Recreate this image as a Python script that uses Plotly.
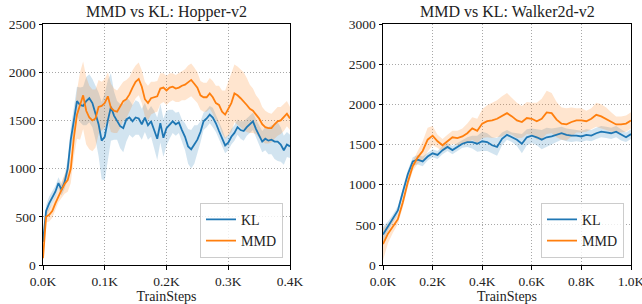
import numpy as np
import plotly.graph_objects as go

# ---------------- data ----------------
hopper_steps = list(range(0, 405, 5))
hopper_kl_mean = [
    240, 560, 640, 700, 760, 850, 780, 860, 1000, 1300,
    1500, 1700, 1660, 1650, 1700, 1730, 1680, 1580, 1460, 1290,
    1330, 1500, 1640, 1550, 1500, 1440, 1420, 1510, 1530, 1490,
    1530, 1520, 1460, 1530, 1450, 1490, 1400, 1310, 1470, 1320,
    1420, 1460, 1490, 1460, 1480, 1400, 1330, 1230, 1200, 1250,
    1300, 1380, 1490, 1520, 1560, 1530, 1470, 1390, 1320, 1240,
    1270, 1330, 1370, 1430, 1400, 1390, 1430, 1460, 1490, 1410,
    1350, 1280, 1310, 1290, 1300, 1280, 1280, 1250, 1190, 1250,
    1230]
hopper_kl_spread = [
    30, 60, 70, 60, 60, 60, 60, 70, 100, 120,
    130, 150, 180, 200, 250, 250, 250, 280, 330, 400,
    450, 420, 350, 250, 200, 230, 250, 230, 180, 170,
    180, 170, 160, 150, 150, 160, 200, 220, 200, 200,
    180, 150, 120, 120, 110, 110, 140, 180, 200, 200,
    150, 110, 90, 90, 90, 100, 90, 90, 90, 80,
    80, 80, 80, 80, 90, 100, 90, 90, 90, 100,
    100, 110, 120, 140, 150, 180, 200, 180, 150, 130,
    120]
hopper_mmd_mean = [
    70, 500, 520, 560, 640, 720, 780, 840, 880, 1000,
    1320, 1560, 1650, 1760, 1600, 1530, 1500, 1520, 1640, 1650,
    1680, 1750, 1630, 1600, 1590, 1640, 1700, 1720, 1770, 1840,
    1900, 1930, 1850, 1720, 1680, 1730, 1740, 1750, 1830, 1840,
    1810, 1840, 1850, 1830, 1840, 1860, 1870, 1900, 1920, 1880,
    1840, 1760, 1740, 1740, 1780, 1740, 1680, 1660, 1590, 1560,
    1620, 1680, 1780, 1760, 1730, 1700, 1660, 1620, 1600, 1560,
    1520, 1460, 1430, 1420, 1420, 1460, 1490, 1500, 1530, 1570,
    1520]
hopper_mmd_spread = [
    30, 60, 70, 70, 70, 70, 80, 100, 120, 150,
    200, 250, 350, 350, 350, 330, 320, 300, 280, 250,
    250, 250, 250, 230, 220, 220, 200, 200, 180, 180,
    170, 170, 170, 180, 180, 170, 160, 160, 160, 150,
    150, 150, 140, 140, 150, 150, 160, 170, 170, 170,
    160, 150, 150, 150, 160, 170, 180, 200, 220, 250,
    280, 300, 300, 300, 300, 300, 280, 250, 230, 200,
    200, 180, 170, 160, 150, 150, 150, 140, 140, 130,
    120]

walker_steps = list(range(0, 1020, 20))
walker_kl_mean = [
    380, 480, 580, 680, 910, 1130, 1290, 1310, 1290, 1350,
    1390, 1370, 1430, 1470, 1430, 1470, 1510, 1530, 1530, 1510,
    1540, 1530, 1490, 1470, 1570, 1620, 1590, 1560, 1510, 1590,
    1610, 1590, 1560, 1590, 1600, 1620, 1640, 1620, 1610, 1610,
    1600, 1620, 1610, 1640, 1660, 1650, 1640, 1660, 1620, 1590,
    1630]
walker_kl_spread = [
    100, 60, 50, 50, 50, 50, 50, 60, 60, 50,
    50, 50, 50, 50, 50, 50, 50, 60, 80, 100,
    120, 110, 100, 110, 80, 60, 60, 80, 120, 100,
    90, 100, 120, 120, 100, 90, 80, 80, 80, 70,
    70, 70, 70, 70, 70, 70, 70, 70, 70, 60,
    60]
walker_mmd_mean = [
    260, 390, 480, 570, 780, 1030, 1230, 1340, 1420, 1560,
    1610, 1540, 1490, 1540, 1590, 1580, 1600, 1640, 1700, 1670,
    1760, 1790, 1800, 1820, 1850, 1890, 1850, 1800, 1780, 1830,
    1820, 1790, 1820, 1900, 1890, 1810, 1760, 1750, 1780, 1800,
    1800, 1790, 1820, 1870, 1850, 1820, 1780, 1750, 1750, 1760,
    1800]
walker_mmd_spread = [
    200, 120, 80, 60, 60, 60, 60, 80, 120, 150,
    120, 80, 80, 80, 80, 90, 100, 120, 140, 150,
    180, 200, 220, 230, 250, 250, 230, 220, 200, 200,
    200, 230, 250, 270, 250, 220, 200, 200, 180, 150,
    150, 130, 130, 150, 150, 140, 120, 100, 100, 100,
    100]

hopper_ticks = [0, 100, 200, 300, 400]
hopper_ticktext = ["0.0K", "0.1K", "0.2K", "0.3K", "0.4K"]
walker_ticks = [0, 200, 400, 600, 800, 1000]
walker_ticktext = ["0.0K", "0.2K", "0.4K", "0.6K", "0.8K", "1.0K"]

# ---------------- styling ----------------
FONT = "Liberation Serif, DejaVu Serif, serif"
BLUE = "#1f77b4"
ORANGE = "#ff7f0e"
BLUE_FILL = "rgba(31,119,180,0.2)"
ORANGE_FILL = "rgba(255,127,14,0.2)"

fig = go.Figure()


def add_band(x, mean, spread, fillcolor, xa, ya):
    x = np.asarray(x, float)
    m = np.asarray(mean, float)
    s = np.asarray(spread, float)
    lo, hi = m - s, m + s
    fig.add_trace(go.Scatter(
        x=np.concatenate([x, x[::-1]]), y=np.concatenate([hi, lo[::-1]]),
        fill="toself", fillcolor=fillcolor, line=dict(width=0),
        mode="lines", hoverinfo="skip", showlegend=False, xaxis=xa, yaxis=ya))


def add_line(x, mean, color, name, xa, ya, legend):
    fig.add_trace(go.Scatter(
        x=x, y=mean, mode="lines", name=name,
        line=dict(color=color, width=1.8),
        xaxis=xa, yaxis=ya, legend=legend))


add_band(hopper_steps, hopper_kl_mean, hopper_kl_spread, BLUE_FILL, "x", "y")
add_band(hopper_steps, hopper_mmd_mean, hopper_mmd_spread, ORANGE_FILL, "x", "y")
add_line(hopper_steps, hopper_kl_mean, BLUE, "KL", "x", "y", "legend")
add_line(hopper_steps, hopper_mmd_mean, ORANGE, "MMD", "x", "y", "legend")

add_band(walker_steps, walker_kl_mean, walker_kl_spread, BLUE_FILL, "x2", "y2")
add_band(walker_steps, walker_mmd_mean, walker_mmd_spread, ORANGE_FILL, "x2", "y2")
add_line(walker_steps, walker_kl_mean, BLUE, "KL", "x2", "y2", "legend2")
add_line(walker_steps, walker_mmd_mean, ORANGE, "MMD", "x2", "y2", "legend2")

W, H = 642, 304
MT, MB = 24, 39
axis_common = dict(
    automargin=False, ticklabeloverflow="allow",
    showline=True, linecolor="black", linewidth=1, mirror=True,
    ticks="outside", ticklen=3.5, tickcolor="black", tickwidth=1,
    showgrid=True, gridcolor="#a8a8a8", griddash="1px,2px", gridwidth=1,
    zeroline=False, tickfont=dict(family=FONT, size=13.5, color="#222"),
)

legend_common = dict(
    bgcolor="rgba(255,255,255,0.8)", bordercolor="#cccccc", borderwidth=1,
    font=dict(family=FONT, size=14, color="#222"),
    xanchor="right", yanchor="bottom", tracegroupgap=0,
)

title_font = dict(family=FONT, size=14, color="#222")
title_y = (H - MB - 12) / (H - MT - MB)

fig.update_layout(
    template="none",
    width=W, height=H,
    margin=dict(l=0, r=0, t=MT, b=MB, autoexpand=False),
    plot_bgcolor="white", paper_bgcolor="white",
    xaxis=dict(domain=[43 / W, 290 / W], range=[0, 400], tickvals=hopper_ticks,
               ticktext=hopper_ticktext, anchor="y",
               title=dict(text="TrainSteps", font=title_font, standoff=2),
               **axis_common),
    yaxis=dict(range=[0, 2500], tickvals=[0, 500, 1000, 1500, 2000, 2500],
               anchor="x", **axis_common),
    xaxis2=dict(domain=[383 / W, 631 / W], range=[0, 1000], tickvals=walker_ticks,
                ticktext=walker_ticktext, anchor="y2",
                title=dict(text="TrainSteps", font=title_font, standoff=2),
                **axis_common),
    yaxis2=dict(range=[0, 3000], tickvals=[0, 500, 1000, 1500, 2000, 2500, 3000],
                anchor="x2", **axis_common),
    legend=dict(x=283 / W, y=0.03, xref="paper", **legend_common),
    legend2=dict(x=624 / W, y=0.03, xref="paper", **legend_common),
    annotations=[
        dict(text="MMD vs KL: Hopper-v2", x=166.5 / W, xref="paper", yref="paper",
             y=title_y, xanchor="center", yanchor="middle",
             showarrow=False, font=dict(family=FONT, size=16, color="#222")),
        dict(text="MMD vs KL: Walker2d-v2", x=507 / W, xref="paper", yref="paper",
             y=title_y, xanchor="center", yanchor="middle",
             showarrow=False, font=dict(family=FONT, size=16, color="#222")),
    ],
)

fig.write_html("out.html",
               config={"displayModeBar": False},
               post_script="document.body.style.margin='0';document.body.style.padding='0';document.body.style.overflow='hidden';")
